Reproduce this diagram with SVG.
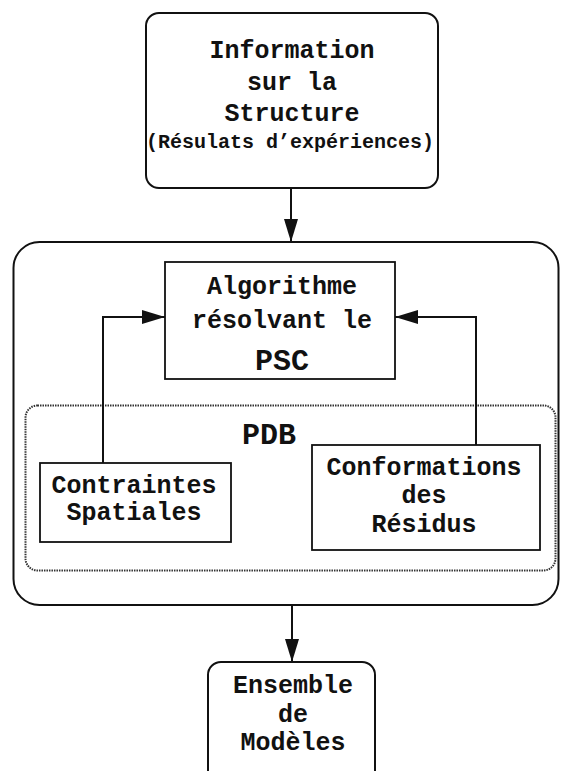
<svg xmlns="http://www.w3.org/2000/svg" width="561" height="771" viewBox="0 0 561 771">
<style>
.box{fill:#fff;stroke:#111;stroke-width:1.8}
.rbox{fill:#fff;stroke:#111;stroke-width:2}
.dot{fill:none;stroke:#333;stroke-width:2;stroke-dasharray:1.5,1}
.t{font-family:"Liberation Mono","Courier New",monospace;font-weight:bold;font-size:25px;fill:#111;text-anchor:middle}
.s{font-size:20px}
.b{font-size:30px}
.c{fill:none;stroke:#111;stroke-width:2}
</style>
<defs>
<marker id="ah" markerWidth="24" markerHeight="14" refX="23" refY="7" orient="auto" markerUnits="userSpaceOnUse">
<path d="M0,0 L23,7 L0,14 Z" fill="#111"/>
</marker>
</defs>
<rect width="561" height="771" fill="#fff"/>
<g id="info">
<rect class="rbox" x="146" y="13" width="292" height="175" rx="13"/>
<text class="t" x="292" y="58">Information</text>
<text class="t" x="292" y="90">sur la</text>
<text class="t" x="292" y="121">Structure</text>
<text class="t s" x="290" y="148">(Résulats d’expériences)</text>
</g>
<g id="system">
<rect class="rbox" x="13.5" y="242" width="545" height="363" rx="26"/>
</g>
<g id="pdb">
<rect class="dot" x="25.5" y="405.5" width="530" height="165" rx="12"/>
<text class="t b" x="269" y="444">PDB</text>
</g>
<g id="algo">
<rect class="box" x="165" y="262" width="230" height="117"/>
<text class="t" x="282" y="294">Algorithme</text>
<text class="t" x="282" y="328">résolvant le</text>
<text class="t b" x="282" y="370">PSC</text>
</g>
<g id="contraintes">
<rect class="box" x="40" y="463" width="191" height="79"/>
<text class="t" x="134" y="493">Contraintes</text>
<text class="t" x="134" y="520">Spatiales</text>
</g>
<g id="conformations">
<rect class="box" x="312" y="445" width="228" height="105"/>
<text class="t" x="424" y="475">Conformations</text>
<text class="t" x="424" y="503">des</text>
<text class="t" x="424" y="532">Résidus</text>
</g>
<g id="ensemble">
<rect class="rbox" x="208" y="662" width="167" height="130" rx="13"/>
<text class="t" x="293" y="693">Ensemble</text>
<text class="t" x="293" y="722">de</text>
<text class="t" x="293" y="750">Modèles</text>
</g>
<g id="connectors">
<path class="c" d="M291,188 V242" marker-end="url(#ah)"/>
<path class="c" d="M103,463 V317 H165" marker-end="url(#ah)"/>
<path class="c" d="M476,445 V317 H395" marker-end="url(#ah)"/>
<path class="c" d="M292,605 V662" marker-end="url(#ah)"/>
</g>
</svg>
